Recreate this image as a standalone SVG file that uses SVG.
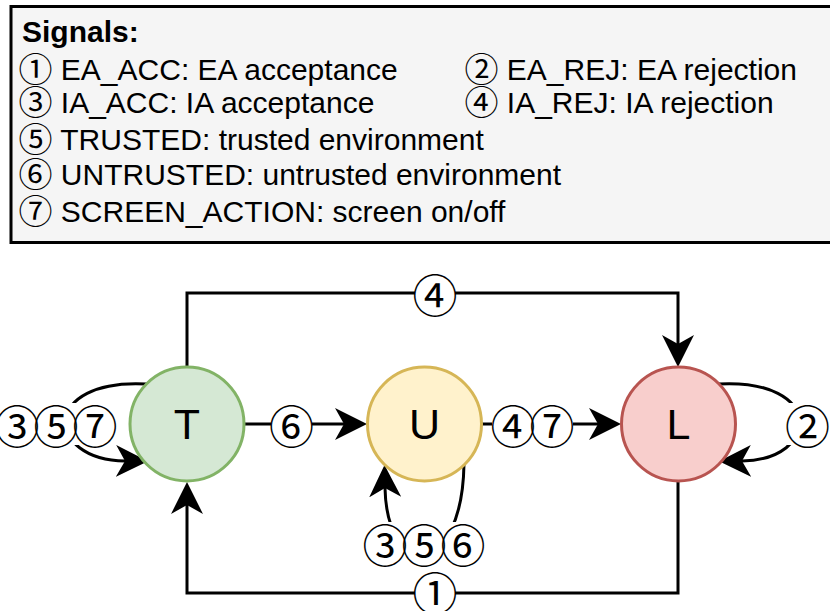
<svg xmlns="http://www.w3.org/2000/svg" width="830" height="611" viewBox="0 0 830 611">
  <style>
    .legend-box { fill: #f5f5f5; stroke: #000; stroke-width: 3; }
    .legend { font-family: "Liberation Sans", sans-serif; font-size: 30px; fill: #000; }
    .legend-title { font-weight: bold; }
    .num { font-family: "Noto Sans CJK SC", sans-serif; font-size: 34px; }
    .node { stroke-width: 3; }
    .node-text { font-family: "Liberation Sans", sans-serif; font-size: 43px; fill: #000; text-anchor: middle; }
    .edge { fill: none; stroke: #000; stroke-width: 3; }
    .lbl-bg { fill: #fff; }
    .lbl { font-family: "Noto Sans CJK SC", sans-serif; font-size: 45px; fill: #000; text-anchor: middle; dominant-baseline: central; }
    .tight { letter-spacing: -6px; }
  </style>
  <defs>
    <!-- classic block arrowhead; the path end sits at the notch -->
    <marker id="arrow" markerUnits="userSpaceOnUse" markerWidth="34" markerHeight="34" viewBox="0 -17 34 34" refX="9" refY="0" orient="auto">
      <path d="M0,-16 L32,0 L0,16 L9,0 Z" fill="#000"/>
    </marker>
  </defs>
  <rect width="830" height="611" fill="#fff"/>

  <!-- signal legend -->
  <g id="legend">
    <rect class="legend-box" x="11" y="6.5" width="830" height="236"/>
    <text class="legend legend-title" x="22" y="42">Signals:</text>
    <text class="legend" x="18.5" y="80"><tspan class="num" dy="2">①</tspan><tspan dy="-2"> EA_ACC: EA acceptance</tspan></text>
    <text class="legend" x="464.5" y="80"><tspan class="num" dy="2">②</tspan><tspan dy="-2"> EA_REJ: EA rejection</tspan></text>
    <text class="legend" x="18.5" y="113"><tspan class="num" dy="2">③</tspan><tspan dy="-2"> IA_ACC: IA acceptance</tspan></text>
    <text class="legend" x="464.5" y="113"><tspan class="num" dy="2">④</tspan><tspan dy="-2"> IA_REJ: IA rejection</tspan></text>
    <text class="legend" x="18.5" y="150"><tspan class="num" dy="2">⑤</tspan><tspan dy="-2"> TRUSTED: trusted environment</tspan></text>
    <text class="legend" x="18.5" y="185"><tspan class="num" dy="2">⑥</tspan><tspan dy="-2"> UNTRUSTED: untrusted environment</tspan></text>
    <text class="legend" x="18.5" y="222"><tspan class="num" dy="2">⑦</tspan><tspan dy="-2"> SCREEN_ACTION: screen on/off</tspan></text>
  </g>

  <!-- transitions -->
  <g id="edges">
    <path class="edge" d="M187,367 V293 H678 V344" marker-end="url(#arrow)"/>
    <path class="edge" d="M678,481 V593 H187 V505" marker-end="url(#arrow)"/>
    <path class="edge" d="M244,424 H344" marker-end="url(#arrow)"/>
    <path class="edge" d="M482,424 H598" marker-end="url(#arrow)"/>
    <path class="edge" d="M147,384 C40,378 45,460 125,461" marker-end="url(#arrow)"/>
    <path class="edge" d="M718,384 C825,378 820,460 742,461" marker-end="url(#arrow)"/>
    <path class="edge" d="M464,464 C462,580 387,580 385,488" marker-end="url(#arrow)"/>

    <rect class="lbl-bg" x="415" y="274" width="40" height="38"/>
    <text class="lbl" x="435" y="293">④</text>
    <rect class="lbl-bg" x="415" y="574" width="40" height="37"/>
    <text class="lbl" x="435" y="591">①</text>
    <rect class="lbl-bg" x="271" y="405" width="41" height="38"/>
    <text class="lbl" x="291.5" y="424">⑥</text>
    <rect class="lbl-bg" x="492" y="405" width="81" height="38"/>
    <text class="lbl tight" x="529.5" y="424">④⑦</text>
    <rect class="lbl-bg" x="-4" y="403" width="120" height="42"/>
    <text class="lbl tight" x="53" y="424">③⑤⑦</text>
    <rect class="lbl-bg" x="787" y="403" width="41" height="42"/>
    <text class="lbl" x="807.5" y="424">②</text>
    <rect class="lbl-bg" x="363" y="522" width="122" height="42"/>
    <text class="lbl tight" x="421" y="543">③⑤⑥</text>
  </g>

  <!-- states -->
  <g id="node-T">
    <circle class="node" cx="187" cy="424" r="57" fill="#d5e8d4" stroke="#82b366"/>
    <text class="node-text" x="187" y="439">T</text>
  </g>
  <g id="node-U">
    <circle class="node" cx="424.5" cy="424" r="57" fill="#fff2cc" stroke="#d6b656"/>
    <text class="node-text" x="424.5" y="439">U</text>
  </g>
  <g id="node-L">
    <circle class="node" cx="678.5" cy="424" r="57" fill="#f8cecc" stroke="#b85450"/>
    <text class="node-text" x="678.5" y="439">L</text>
  </g>
</svg>
